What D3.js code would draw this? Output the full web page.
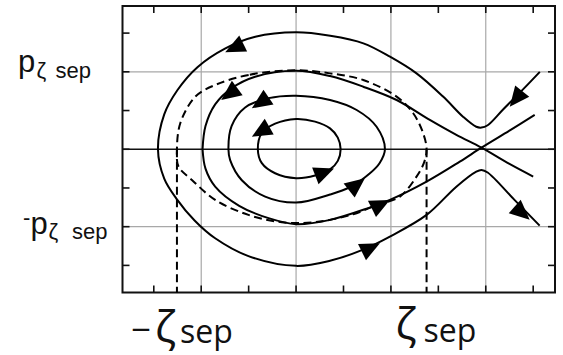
<!DOCTYPE html>
<html><head><meta charset="utf-8">
<script src="https://cdn.jsdelivr.net/npm/d3@7"></script>
<style>html,body{margin:0;padding:0;background:#fff;} svg{display:block;}</style>
</head><body><svg id="c" width="563" height="355"></svg>
<script>
// ---- data (ζ, p) ----
const zetaDomain = [-1.83, 2.73];
const pDomain = [-1.85, 1.85];
const zetaTicks = [-1.5, -1, -0.5, 0, 0.5, 1, 1.5, 2, 2.5];
const pTicks = [-1.5, -1, -0.5, 0, 0.5, 1, 1.5];
const zetaGrid = [-1, 0, 1, 2];
const pGrid = [-1, 1];
const zetaSep = [-1.256, 1.376];

const outerOrbit = [[2.57,1.00],[2.39,0.77],[2.18,0.51],[2.02,0.31],[1.955,0.28],[1.90,0.29],[1.76,0.42],[1.55,0.68],[1.27,0.98],[0.99,1.195],[0.71,1.368],[0.36,1.465],[0,1.51],[-0.43,1.453],[-0.75,1.30],[-1.04,1.06],[-1.25,0.765],[-1.39,0.45],[-1.456,0],[-1.39,-0.38],[-1.26,-0.64],[-1.07,-0.92],[-0.853,-1.15],[-0.502,-1.38],[0,-1.506],[0.358,-1.44],[0.70,-1.30],[0.989,-1.128],[1.376,-0.848],[1.69,-0.483],[1.90,-0.289],[1.955,-0.267],[2.02,-0.30],[2.30,-0.65],[2.568,-0.986]];
const sepUpper = [[-0.986,0],[-0.955,0.30],[-0.853,0.58],[-0.677,0.79],[-0.432,0.937],[0,1.014],[0.358,0.945],[0.708,0.808],[1.06,0.636],[1.41,0.378],[1.69,0.185],[1.955,0.02],[2.25,-0.19],[2.50,-0.353]];
const sepLower = [[-0.986,0],[-0.955,-0.25],[-0.853,-0.482],[-0.60,-0.73],[-0.29,-0.89],[0,-0.968],[0.358,-0.912],[0.76,-0.76],[0.989,-0.654],[1.376,-0.418],[1.726,-0.16],[1.955,0.02],[2.25,0.24],[2.516,0.443]];
const orbit2 = [[0,0.692],[0.358,0.636],[0.639,0.507],[0.849,0.29],[0.937,0],[0.88,-0.18],[0.779,-0.31],[0.568,-0.49],[0.358,-0.585],[0,-0.689],[-0.326,-0.611],[-0.572,-0.40],[-0.695,-0.14],[-0.713,0],[-0.68,0.30],[-0.537,0.54],[-0.29,0.66]];
const orbit1 = [[0,0.391],[0.2,0.357],[0.358,0.27],[0.44,0.15],[0.47,0],[0.44,-0.15],[0.358,-0.26],[0.2,-0.34],[0,-0.374],[-0.221,-0.31],[-0.361,-0.18],[-0.403,0],[-0.361,0.21],[-0.221,0.33]];
const dashedBucket = [[0,1.02],[-0.50,0.96],[-0.853,0.83],[-1.063,0.679],[-1.221,0.335],[-1.256,0],[-1.239,-0.224],[-1.098,-0.396],[-0.853,-0.654],[-0.502,-0.848],[-0.151,-0.942],[0.2,-0.942],[0.6,-0.84],[0.85,-0.72],[1.095,-0.611],[1.27,-0.354],[1.35,-0.17],[1.376,0],[1.34,0.206],[1.235,0.465],[1.06,0.679],[0.708,0.894],[0.358,0.98]];
// arrows: [base, tip]
const arrows = [
  [[-0.547,1.372],[-0.747,1.253]],
  [[2.393,0.765],[2.253,0.55]],
  [[0.708,-1.32],[0.884,-1.213]],
  [[2.305,-0.74],[2.463,-0.912]],
  [[-0.624,0.787],[-0.789,0.636]],
  [[0.779,-0.783],[0.989,-0.654]],
  [[-0.309,0.658],[-0.466,0.529]],
  [[0.568,-0.525],[0.726,-0.374]],
  [[-0.30,0.28],[-0.466,0.163]],
  [[0.23,-0.33],[0.40,-0.25]]
];

// ---- drawing ----
const svg = d3.select('#c');
const x = d3.scaleLinear().domain(zetaDomain).range([122.5, 555]);
const y = d3.scaleLinear().domain(pDomain).range([292.5, 6]);
const [x0, x1] = x.range(), [y0, y1] = y.range();

// grid
svg.append('g').selectAll('line').data(zetaGrid).join('line')
  .attr('x1', d => x(d)).attr('x2', d => x(d)).attr('y1', y1).attr('y2', y0)
  .attr('stroke', '#a8a8a8').attr('stroke-width', 1.2);
svg.append('g').selectAll('line').data(pGrid).join('line')
  .attr('x1', x0).attr('x2', x1).attr('y1', d => y(d)).attr('y2', d => y(d))
  .attr('stroke', '#a8a8a8').attr('stroke-width', 1.2);
svg.append('line').attr('x1', x0).attr('x2', x1).attr('y1', y(0)).attr('y2', y(0))
  .attr('stroke', '#111').attr('stroke-width', 1.3);

// ticks (inward on all four sides)
const T = 7;
const tk = svg.append('g').attr('stroke', '#111').attr('stroke-width', 1.6);
tk.selectAll('.tt').data(zetaTicks).join('line').attr('class','tt')
  .attr('x1', d => x(d)).attr('x2', d => x(d)).attr('y1', y1).attr('y2', y1 + T);
tk.selectAll('.tb').data(zetaTicks).join('line').attr('class','tb')
  .attr('x1', d => x(d)).attr('x2', d => x(d)).attr('y1', y0).attr('y2', y0 - T);
tk.selectAll('.tl').data(pTicks).join('line').attr('class','tl')
  .attr('x1', x0).attr('x2', x0 + T).attr('y1', d => y(d)).attr('y2', d => y(d));
tk.selectAll('.tr').data(pTicks).join('line').attr('class','tr')
  .attr('x1', x1).attr('x2', x1 - T).attr('y1', d => y(d)).attr('y2', d => y(d));

// frame
svg.append('rect').attr('x', x0).attr('y', y1).attr('width', x1 - x0).attr('height', y0 - y1)
  .attr('fill', 'none').attr('stroke', '#111').attr('stroke-width', 2);

const lineOpen = d3.line().x(d => x(d[0])).y(d => y(d[1])).curve(d3.curveCatmullRom.alpha(0.5));
const lineClosed = d3.line().x(d => x(d[0])).y(d => y(d[1])).curve(d3.curveCatmullRomClosed.alpha(0.5));

const curves = svg.append('g').attr('fill', 'none').attr('stroke', '#000').attr('stroke-width', 2);
// dashed bucket + separatrix verticals
curves.append('path').attr('d', lineClosed(dashedBucket)).attr('stroke-dasharray', '8,4.5');
curves.selectAll('.vs').data(zetaSep).join('line').attr('class','vs')
  .attr('x1', d => x(d)).attr('x2', d => x(d)).attr('y1', y(0)).attr('y2', y0)
  .attr('stroke-dasharray', '8,4.5');

curves.append('path').attr('d', lineOpen(outerOrbit));
curves.append('path').attr('d', lineOpen(sepUpper));
curves.append('path').attr('d', lineOpen(sepLower));
curves.append('path').attr('d', lineClosed(orbit2));
curves.append('path').attr('d', lineClosed(orbit1));

// arrowheads
const L = 20, W = 9;
svg.append('g').selectAll('path').data(arrows).join('path')
  .attr('fill', '#000')
  .attr('d', a => {
    const bx = x(a[0][0]), by = y(a[0][1]), tx = x(a[1][0]), ty = y(a[1][1]);
    const dx = tx - bx, dy = ty - by, n = Math.hypot(dx, dy);
    const ux = dx / n, uy = dy / n;
    const cx = tx - ux * L, cy = ty - uy * L;
    return `M${tx},${ty}L${cx - uy * W},${cy + ux * W}L${cx + uy * W},${cy - ux * W}Z`;
  });

// labels
const sans = 'Liberation Sans, Arial, sans-serif';
const lt = svg.append('text').attr('font-family', sans).attr('fill', '#111');
lt.append('tspan').attr('x', 18).attr('y', y(1) + 0.5).attr('font-size', 31).text('p');
lt.append('tspan').attr('x', 36.5).attr('y', y(1) + 6.5).attr('font-size', 22).text('ζ');
lt.append('tspan').attr('x', 55.5).attr('y', y(1) + 6.5).attr('font-size', 22).text('sep');

const lb = svg.append('text').attr('font-family', sans).attr('fill', '#111');
lb.append('tspan').attr('x', 23).attr('y', y(-1) - 2).attr('font-size', 22).text('-');
lb.append('tspan').attr('x', 30.5).attr('y', y(-1) + 7.5).attr('font-size', 31).text('p');
lb.append('tspan').attr('x', 48.5).attr('y', y(-1) + 12).attr('font-size', 22).text('ζ');
lb.append('tspan').attr('x', 72).attr('y', y(-1) + 12).attr('font-size', 22).text('sep');

const os = 'Open Sans, sans-serif';
const bl = svg.append('text').attr('font-family', os).attr('fill', '#111');
bl.append('tspan').attr('x', x(zetaSep[0]) - 46).attr('y', 342).attr('font-size', 35).text('−');
bl.append('tspan').attr('x', x(zetaSep[0]) - 22).attr('y', 342).attr('font-size', 44).text('ζ');
bl.append('tspan').attr('x', x(zetaSep[0]) + 3).attr('y', 342.5).attr('font-size', 32).text('sep');

const br = svg.append('text').attr('font-family', os).attr('fill', '#111');
br.append('tspan').attr('x', x(zetaSep[1]) - 31).attr('y', 339).attr('font-size', 44).text('ζ');
br.append('tspan').attr('x', x(zetaSep[1]) - 3).attr('y', 341.5).attr('font-size', 32).text('sep');
</script></body></html>
